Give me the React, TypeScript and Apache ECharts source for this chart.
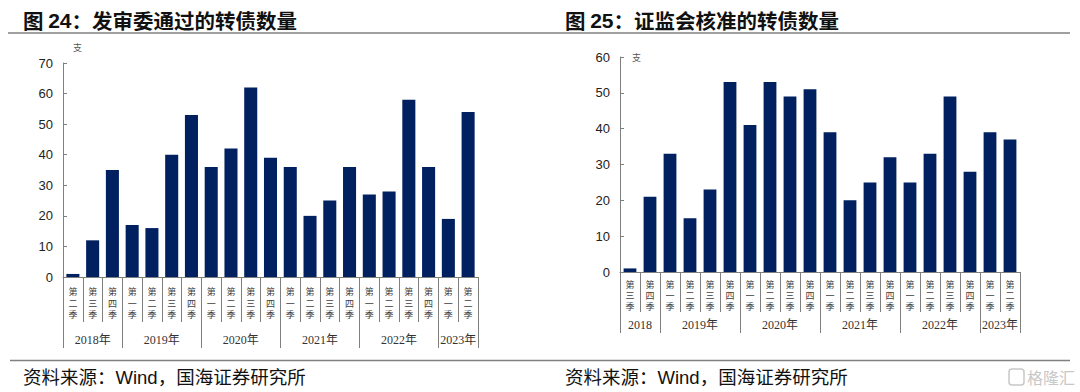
import React, { useEffect, useRef } from 'react';
import * as echarts from 'echarts';

// ---- Left chart: 发审委通过的转债数量 ----
const leftYears = ['2018年', '2019年', '2020年', '2021年', '2022年', '2023年'];
const leftYearCounts = [3, 4, 4, 4, 4, 2];
const leftQuarters = [
  '第二季', '第三季', '第四季',
  '第一季', '第二季', '第三季', '第四季',
  '第一季', '第二季', '第三季', '第四季',
  '第一季', '第二季', '第三季', '第四季',
  '第一季', '第二季', '第三季', '第四季',
  '第一季', '第二季',
];
const leftValues = [1, 12, 35, 17, 16, 40, 53, 36, 42, 62, 39, 36, 20, 25, 36, 27, 28, 58, 36, 19, 54];
const leftYMax = 70;

// ---- Right chart: 证监会核准的转债数量 ----
const rightYears = ['2018', '2019年', '2020年', '2021年', '2022年', '2023年'];
const rightYearCounts = [2, 4, 4, 4, 4, 2];
const rightQuarters = [
  '第三季', '第四季',
  '第一季', '第二季', '第三季', '第四季',
  '第一季', '第二季', '第三季', '第四季',
  '第一季', '第二季', '第三季', '第四季',
  '第一季', '第二季', '第三季', '第四季',
  '第一季', '第二季',
];
const rightValues = [1, 21, 33, 15, 23, 53, 41, 53, 49, 51, 39, 20, 25, 32, 25, 33, 49, 28, 39, 37];
const rightYMax = 60;
const yInterval = 10;

const BAR = '#002060';
const AXIS = '#7f7f7f';

function buildYearAxis(years: string[], counts: number[]) {
  const total = counts.reduce((a, b) => a + b, 0);
  const n = total * 2 + 1;
  const data: string[] = [];
  const labels: string[] = [];
  for (let i = 0; i < n; i++) {
    data.push('h' + i);
    labels.push('');
  }
  const boundaries = new Set<number>();
  let s = 0;
  years.forEach((y, i) => {
    boundaries.add(s * 2);
    labels[s * 2 + counts[i]] = y;
    s += counts[i];
  });
  boundaries.add(s * 2);
  return { data, labels, boundaries };
}

function quarterAxis(gridIndex: number, cats: string[], o: any) {
  return {
    type: 'category',
    gridIndex,
    position: 'bottom',
    data: cats,
    boundaryGap: true,
    axisLine: { show: true, lineStyle: { color: AXIS, width: 1 } },
    axisTick: { show: true, interval: 0, length: o.tickLen, lineStyle: { color: AXIS, width: 1 } },
    axisLabel: {
      interval: 0,
      margin: o.margin,
      fontSize: o.fontSize,
      lineHeight: o.lineHeight,
      color: '#404040',
      fontFamily: '"Noto Sans CJK SC"',
      formatter: (v: string) => v.split('').join('\n'),
    },
    splitLine: { show: false },
  };
}

function yearAxis(gridIndex: number, years: string[], counts: number[], o: any) {
  const { data, labels, boundaries } = buildYearAxis(years, counts);
  return {
    type: 'category',
    gridIndex,
    position: 'bottom',
    data,
    boundaryGap: false,
    axisLine: { show: false },
    axisTick: {
      show: true,
      interval: (idx: number) => boundaries.has(idx),
      length: o.tickLen,
      lineStyle: { color: AXIS, width: 1 },
    },
    axisLabel: {
      interval: (idx: number) => labels[idx] !== '',
      formatter: (_v: string, idx: number) => labels[idx],
      margin: o.margin,
      fontSize: 12,
      color: '#333',
      fontFamily: '"Liberation Serif", "Noto Sans CJK SC"',
      hideOverlap: false,
    },
    splitLine: { show: false },
  };
}

function valueAxis(gridIndex: number, max: number, o: any) {
  return {
    type: 'value',
    gridIndex,
    min: 0,
    max,
    interval: yInterval,
    name: '支',
    nameLocation: 'end',
    nameGap: o.nameGap,
    nameTextStyle: {
      fontSize: 9,
      color: '#555',
      align: 'left',
      verticalAlign: 'middle',
      padding: [0, 0, 0, o.namePad],
      fontFamily: '"Noto Sans CJK SC"',
    },
    axisLine: { show: true, lineStyle: { color: AXIS, width: 1 } },
    axisTick: { show: true, inside: true, length: 4, lineStyle: { color: AXIS } },
    axisLabel: { margin: 10, fontSize: 13, color: '#222', fontFamily: '"Liberation Sans", Arial' },
    splitLine: { show: false },
  };
}

function titleText(x: number, num: string, rest: string) {
  return {
    type: 'text',
    x,
    y: 20,
    style: {
      text: `{a|图 }{b|${num}}{a|：${rest}}`,
      verticalAlign: 'middle',
      rich: {
        a: { fontSize: 20.5, fontWeight: 'bold', fill: '#111', fontFamily: '"Noto Sans CJK SC"' },
        b: { fontSize: 21, fontWeight: 'bold', fill: '#111', fontFamily: '"Liberation Sans", Arial' },
      },
    },
  };
}

function footerText(x: number) {
  return {
    type: 'text',
    x,
    y: 377,
    style: {
      text: '资料来源：Wind，国海证券研究所',
      fontSize: 18.5,
      fill: '#111',
      verticalAlign: 'middle',
      fontFamily: '"Liberation Sans", "Noto Sans CJK SC"',
    },
  };
}

export default function App() {
  const ref = useRef<HTMLDivElement>(null);
  useEffect(() => {
    if (!ref.current) return;
    const chart = echarts.init(ref.current, undefined, { renderer: 'svg' });
    chart.setOption({
      animation: false,
      backgroundColor: '#ffffff',
      grid: [
        { left: 63, top: 63, width: 415, height: 214 },
        { left: 620, top: 57, width: 400, height: 215 },
      ],
      xAxis: [
        quarterAxis(0, leftQuarters, { tickLen: 45, margin: 9, fontSize: 9, lineHeight: 11.5 }),
        yearAxis(0, leftYears, leftYearCounts, { tickLen: 71, margin: 57 }),
        quarterAxis(1, rightQuarters, { tickLen: 40, margin: 7, fontSize: 9, lineHeight: 11 }),
        yearAxis(1, rightYears, rightYearCounts, { tickLen: 61, margin: 47 }),
      ],
      yAxis: [
        valueAxis(0, leftYMax, { nameGap: 16, namePad: 10 }),
        valueAxis(1, rightYMax, { nameGap: 0, namePad: 12 }),
      ],
      series: [
        {
          type: 'bar',
          xAxisIndex: 0,
          yAxisIndex: 0,
          data: leftValues,
          barCategoryGap: '34%',
          itemStyle: { color: BAR },
        },
        {
          type: 'bar',
          xAxisIndex: 2,
          yAxisIndex: 1,
          data: rightValues,
          barCategoryGap: '36%',
          itemStyle: { color: BAR },
        },
      ],
      graphic: [
        titleText(23, '24', '发审委通过的转债数量'),
        titleText(565, '25', '证监会核准的转债数量'),
        { type: 'line', shape: { x1: 8, y1: 33, x2: 1070, y2: 33 }, style: { stroke: '#808080', lineWidth: 1.5 } },
        { type: 'line', shape: { x1: 10, y1: 360.5, x2: 1070, y2: 360.5 }, style: { stroke: '#808080', lineWidth: 1.5 } },
        footerText(23),
        footerText(565),
        {
          type: 'rect',
          shape: { x: 1009, y: 369, width: 15, height: 16, r: 3 },
          style: { fill: 'none', stroke: '#c8c8c8', lineWidth: 1.5 },
        },
        {
          type: 'text',
          x: 1027,
          y: 377,
          style: { text: '格隆汇', fontSize: 16, fill: '#c8c8c8', verticalAlign: 'middle', fontFamily: '"Noto Sans CJK SC"' },
        },
      ],
    });
    return () => chart.dispose();
  }, []);
  return (
    <div
      ref={ref}
      style={{ position: 'absolute', left: 0, top: 0, width: 1080, height: 392, background: '#fff' }}
    />
  );
}
